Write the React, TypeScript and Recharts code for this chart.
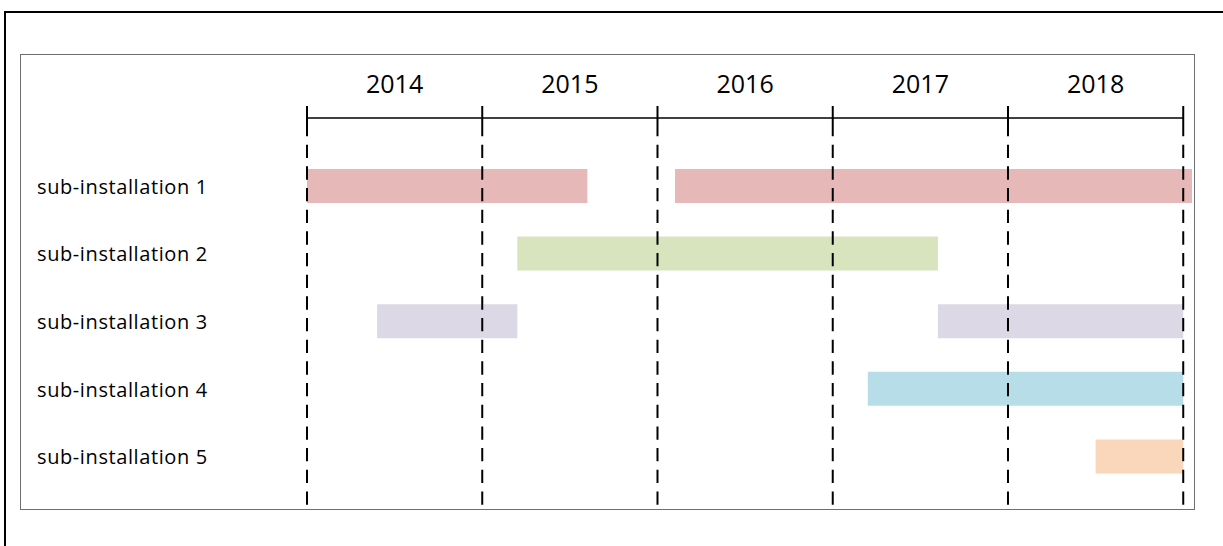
import React from 'react';
import { BarChart, Bar, XAxis, YAxis, Cell, ReferenceLine } from 'recharts';

const installations = [
  'sub-installation 1',
  'sub-installation 2',
  'sub-installation 3',
  'sub-installation 4',
  'sub-installation 5',
];
const firstStart = [2014.0, 2015.2, 2014.4, 2017.2, 2018.5];
const firstEnd = [2015.6, 2017.6, 2015.2, 2019.0, 2019.0];
const secondStart: (number | null)[] = [2016.1, null, 2017.6, null, null];
const secondEnd: (number | null)[] = [2019.05, null, 2019.0, null, null];
const rowColors = ['#E6B9B8', '#D7E4BD', '#DDD8E6', '#B7DEE8', '#FAD7BB'];
const yearBoundaries = [2014, 2015, 2016, 2017, 2018, 2019];
const yearLabels = ['2014', '2015', '2016', '2017', '2018'];

const rows = installations.map((name, i) => ({
  name,
  seg1: [firstStart[i], firstEnd[i]],
  seg2: secondStart[i] != null ? [secondStart[i], secondEnd[i]] : null,
}));

const X_MIN = yearBoundaries[0];
const X_MAX = Math.max(...firstEnd, ...(secondEnd.filter((v) => v != null) as number[]));
const labelTicks = yearLabels.map((_, i) => (yearBoundaries[i] + yearBoundaries[i + 1]) / 2);
const allTicks = [...yearBoundaries, ...labelTicks];

const W = 1223;
const H = 546;
const MARGIN = { top: 0, right: 31, bottom: 36, left: 20 };
const Y_AXIS_W = 287;
const X_AXIS_H = 128;
const PLOT_W = W - MARGIN.left - MARGIN.right - Y_AXIS_W;
const YEAR_PX = PLOT_W / (X_MAX - X_MIN);
const FONT = '"Open Sans", "Noto Sans", sans-serif';

const XTick = (props: any) => {
  const { x, payload } = props;
  const v = payload.value;
  const bi = yearBoundaries.indexOf(v);
  if (bi >= 0) {
    return (
      <g>
        <line x1={x} x2={x} y1={106} y2={X_AXIS_H} stroke="#000" strokeWidth={2} />
        {bi === 0 && (
          <line
            x1={x}
            x2={x + (yearBoundaries.length - 1) * YEAR_PX}
            y1={118}
            y2={118}
            stroke="#000"
            strokeWidth={1.7}
          />
        )}
      </g>
    );
  }
  const li = labelTicks.indexOf(v);
  return (
    <text x={x} y={93} textAnchor="middle" fontSize={25} fontFamily={FONT} fill="#000">
      {yearLabels[li]}
    </text>
  );
};

const YTick = (props: any) => {
  const { y, payload } = props;
  return (
    <text x={37} y={y + 8} textAnchor="start" fontSize={20} letterSpacing={0.6} fontFamily={FONT} fill="#000">
      {payload.value}
    </text>
  );
};

export default function App() {
  return (
    <div style={{ position: 'absolute', left: 0, top: 0, width: W, height: H, overflow: 'hidden', background: '#fff' }}>
      <div style={{ position: 'absolute', left: 4, top: 11, width: 1400, height: 700, border: '2px solid #000' }} />
      <div
        style={{
          position: 'absolute',
          left: 20,
          top: 54,
          width: 1175,
          height: 456,
          border: '1px solid #6f6f6f',
          boxSizing: 'border-box',
        }}
      />
      <div style={{ position: 'absolute', left: 0, top: 0 }}>
        <BarChart width={W} height={H} data={rows} layout="vertical" margin={MARGIN}>
          <XAxis
            xAxisId="x"
            type="number"
            orientation="top"
            domain={[X_MIN, X_MAX]}
            ticks={allTicks}
            interval={0}
            height={X_AXIS_H}
            axisLine={false}
            tickLine={false}
            tick={(p: any) => <XTick {...p} />}
          />
          <YAxis
            yAxisId="a"
            type="category"
            dataKey="name"
            width={Y_AXIS_W}
            axisLine={false}
            tickLine={false}
            padding={{ top: 24, bottom: 20 }}
            tick={(p: any) => <YTick {...p} />}
          />
          <YAxis yAxisId="b" type="category" dataKey="name" hide padding={{ top: 24, bottom: 20 }} />
          <Bar dataKey="seg1" xAxisId="x" yAxisId="a" barSize={34} isAnimationActive={false}>
            {rows.map((r, i) => (
              <Cell key={r.name} fill={rowColors[i]} />
            ))}
          </Bar>
          <Bar dataKey="seg2" xAxisId="x" yAxisId="b" barSize={34} isAnimationActive={false}>
            {rows.map((r, i) => (
              <Cell key={r.name} fill={rowColors[i]} />
            ))}
          </Bar>
          {yearBoundaries.map((yr) => (
            <ReferenceLine
              key={yr}
              x={yr}
              xAxisId="x"
              yAxisId="a"
              stroke="#000"
              strokeWidth={2}
              strokeDasharray="13.3 8.37"
              strokeDashoffset={5}
              ifOverflow="visible"
              zIndex={1000}
            />
          ))}
        </BarChart>
      </div>
    </div>
  );
}
